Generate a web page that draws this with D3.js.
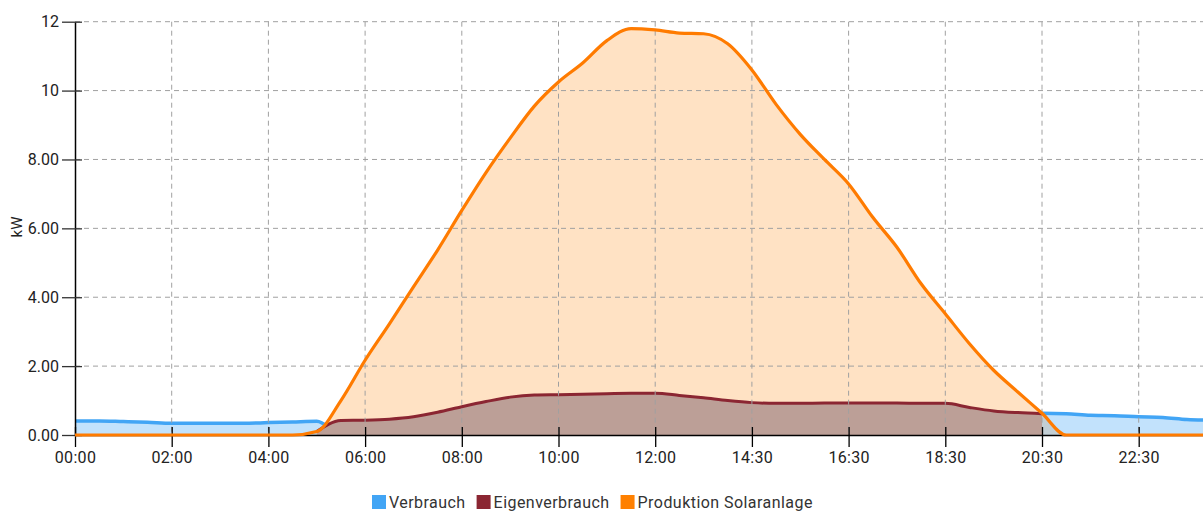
<!DOCTYPE html>
<html>
<head>
<meta charset="utf-8">
<script src="https://cdn.jsdelivr.net/npm/d3@7"></script>
<style>
  body { margin: 0; background: #fff; }
  text { font-family: Roboto, "Noto Sans", sans-serif; }
</style>
</head>
<body>
<svg id="chart" width="1203" height="512"></svg>
<script>
var chartWidth = 1203;
var chartHeight = 512;

/********
 * Data *
 ********/

// one slot = 30 min, 4 slots between two labelled ticks
var slotsPerTick = 4;
var tickLabels = ["00:00", "02:00", "04:00", "06:00", "08:00", "10:00", "12:00", "14:30", "16:30", "18:30", "20:30", "22:30"];
var yTicks = [0, 2, 4, 6, 8, 10, 12];
var yTickLabels = ["0.00", "2.00", "4.00", "6.00", "8.00", "10", "12"];

var verbrauch = [0.41, 0.41, 0.39, 0.37, 0.34, 0.34, 0.34, 0.34, 0.36, 0.38,
                 0.40, 0.03, 0.03, 0.03, 0.03, 0.03, 0.03, 0.03, 0.03, 0.03,
                 0.03, 0.03, 0.03, 0.03, 0.03, 0.03, 0.03, 0.03, 0.03, 0.03,
                 0.03, 0.03, 0.03, 0.03, 0.03, 0.03, 0.03, 0.03, 0.03, 0.03,
                 0.63, 0.62, 0.57, 0.56, 0.53, 0.51, 0.45, 0.43];

var eigenverbrauch = [0, 0, 0, 0, 0, 0, 0, 0, 0, 0,
                      0.10, 0.42, 0.43, 0.46, 0.53, 0.66, 0.82, 0.97, 1.10, 1.16,
                      1.17, 1.18, 1.20, 1.21, 1.21, 1.15, 1.08, 1.00, 0.94, 0.92,
                      0.92, 0.93, 0.93, 0.93, 0.93, 0.92, 0.92, 0.80, 0.70, 0.65,
                      0.62, 0, 0, 0, 0, 0, 0, 0];

var produktion = [0, 0, 0, 0, 0, 0, 0, 0, 0, 0,
                  0.10, 1.00, 2.17, 3.22, 4.30, 5.37, 6.52, 7.62, 8.62, 9.55,
                  10.25, 10.80, 11.45, 11.80, 11.76, 11.67, 11.65, 11.36, 10.60, 9.60,
                  8.73, 8.00, 7.29, 6.32, 5.45, 4.39, 3.52, 2.65, 1.88, 1.25,
                  0.63, 0, 0, 0, 0, 0, 0, 0];

var legendItems = ["Verbrauch", "Eigenverbrauch", "Produktion Solaranlage"];
var legendColors = ["#42a5f5", "#8b2632", "#ff8000"];

/**************
 * Make Chart *
 **************/

var marginLeft = 75, marginTop = 21.7, plotBottom = 435;
var tickStep = 96.7;

var svg = d3.select("#chart");

// x: slot index
var x = d3.scaleLinear()
    .domain([0, (chartWidth - marginLeft) / tickStep * slotsPerTick])
    .range([marginLeft, chartWidth]);

var y = d3.scaleLinear()
    .domain([0, 12])
    .range([plotBottom, marginTop]);

svg.append("defs").append("clipPath")
    .attr("id", "plot")
    .append("rect")
    .attr("x", marginLeft)
    .attr("y", 0)
    .attr("width", chartWidth - marginLeft)
    .attr("height", plotBottom + 5);

var plot = svg.append("g").attr("clip-path", "url(#plot)");

function areaOf(vals, defined) {
    return d3.area()
        .defined(function(d, i) { return defined ? defined(i) : true; })
        .x(function(d, i) { return x(i); })
        .y0(y(0))
        .y1(function(d) { return y(d); })
        .curve(d3.curveMonotoneX)(vals);
}

function lineOf(vals, defined) {
    return d3.line()
        .defined(function(d, i) { return defined ? defined(i) : true; })
        .x(function(d, i) { return x(i); })
        .y(function(d) { return y(d); })
        .curve(d3.curveMonotoneX)(vals);
}

var hasSun = function(i) { return produktion[i] > 0; };

// areas
plot.append("path")
    .attr("d", areaOf(produktion))
    .attr("fill", "rgba(255,128,0,0.23)");

plot.append("path")
    .attr("d", areaOf(verbrauch))
    .attr("fill", "rgba(66,165,245,0.32)");

plot.append("path")
    .attr("d", lineOf(verbrauch))
    .attr("fill", "none")
    .attr("stroke", "#42a5f5")
    .attr("stroke-width", 3.5);

plot.append("path")
    .attr("d", areaOf(eigenverbrauch, hasSun))
    .attr("fill", "#bc9f97");

// grid
var tickIdx = tickLabels.map(function(t, i) { return i * slotsPerTick; });

svg.append("g").selectAll("line")
    .data(tickIdx.slice(1))
    .enter().append("line")
    .attr("x1", function(d) { return x(d); })
    .attr("x2", function(d) { return x(d); })
    .attr("y1", y(12))
    .attr("y2", y(0))
    .attr("stroke", "#a0a0a0")
    .attr("stroke-dasharray", "5,4");

svg.append("g").selectAll("line")
    .data(yTicks.slice(1))
    .enter().append("line")
    .attr("x1", marginLeft)
    .attr("x2", chartWidth)
    .attr("y1", function(d) { return y(d); })
    .attr("y2", function(d) { return y(d); })
    .attr("stroke", "#a0a0a0")
    .attr("stroke-dasharray", "5,4");

// axes
var xAxis = d3.axisBottom(x)
    .tickValues(tickIdx)
    .tickFormat(function(d, i) { return tickLabels[i]; })
    .tickSizeOuter(0);

var xAxisGroup = svg.append("g")
    .attr("transform", "translate(0," + plotBottom + ")")
    .call(xAxis);

xAxisGroup.select(".domain").attr("stroke", "#000").attr("stroke-width", 1.5);
xAxisGroup.selectAll(".tick line").attr("y1", -8).attr("y2", 12).attr("stroke", "#000").attr("stroke-width", 1.3);
xAxisGroup.selectAll(".tick text")
    .attr("y", 28)
    .attr("dy", 0)
    .attr("fill", "#222")
    .style("font-size", "16px")
    .style("letter-spacing", "0.3px");

var yAxis = d3.axisLeft(y)
    .tickValues(yTicks)
    .tickFormat(function(d, i) { return yTickLabels[i]; })
    .tickSizeOuter(0);

var yAxisGroup = svg.append("g")
    .attr("transform", "translate(" + marginLeft + ",0)")
    .call(yAxis);

yAxisGroup.select(".domain").attr("stroke", "#000").attr("stroke-width", 1.5);
yAxisGroup.selectAll(".tick line").attr("x1", -13).attr("x2", 7).attr("stroke", "#333").attr("stroke-width", 1.3);
yAxisGroup.selectAll(".tick text")
    .attr("x", -16)
    .attr("fill", "#222")
    .style("font-size", "16px");

svg.append("text")
    .attr("text-anchor", "middle")
    .attr("transform", "translate(22,227) rotate(-90)")
    .attr("fill", "#222")
    .style("font-size", "15px")
    .text("kW");

// lines on top
plot.append("path")
    .attr("d", lineOf(eigenverbrauch, hasSun))
    .attr("fill", "none")
    .attr("stroke", "#8b2632")
    .attr("stroke-width", 3);

svg.append("path")
    .attr("clip-path", "url(#plot)")
    .attr("d", lineOf(produktion))
    .attr("fill", "none")
    .attr("stroke", "#ff7b00")
    .attr("stroke-width", 3.2);

// legend
var legend = svg.append("g").attr("transform", "translate(372,495)");
var lx = 0;
legendItems.forEach(function(name, i) {
    legend.append("rect")
        .attr("x", lx)
        .attr("y", 0)
        .attr("width", 14)
        .attr("height", 14)
        .attr("fill", legendColors[i]);
    var t = legend.append("text")
        .attr("x", lx + 17)
        .attr("y", 13)
        .attr("fill", "#333")
        .style("font-size", "16px")
        .style("letter-spacing", "0.45px")
        .text(name);
    lx += 17 + t.node().getComputedTextLength() + 11;
});
</script>
</body>
</html>
